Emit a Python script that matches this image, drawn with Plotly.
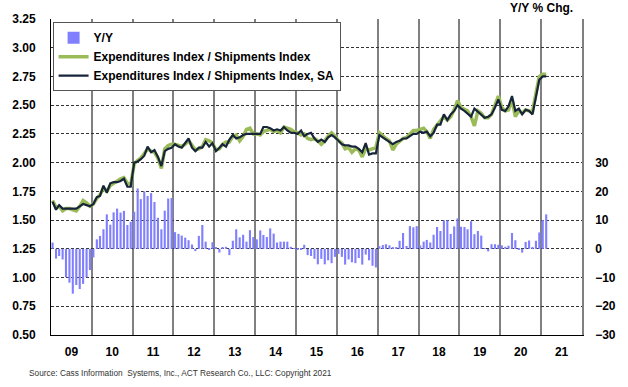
import pandas as pd
import plotly.graph_objects as go

# ---------------- data ----------------
start_month = "2009-01-01"
n_months = 146  # Jan 2009 .. Feb 2021

yoy_pct = [
    2.2, -3.4, -2.5, -3.7, -9.9, -11.8, -15.6, -12.6, -14.0, -12.2, -9.9, -7.4,   # 2009
    -3.0, 3.3, 4.5, 6.8, 12.0, 8.4, 12.7, 14.0, 12.6, 13.2, 8.3, 9.4,             # 2010
    12.9, 21.0, 17.3, 20.0, 18.4, 19.4, 16.3, 10.8, 6.8, 13.3, 17.5, 17.7,        # 2011
    5.8, 5.2, 4.6, 3.9, 3.0, 1.5, -0.8, 4.5, 8.3, 2.5, -0.1, 2.3,                 # 2012
    0.5, -1.3, 0.3, 0.7, -2.2, 2.8, 6.8, 4.0, 4.9, 2.5, 6.5, 4.1,                 # 2013
    3.3, 6.4, 4.8, 4.1, 7.1, 5.3, 2.2, 2.5, 2.5, 2.5, 0.7, 0.2,                   # 2014
    -0.3, -0.1, 1.4, -2.2, -2.5, -3.5, -5.4, -3.5, -5.4, -4.0, -5.0, -2.8,        # 2015
    -1.8, -2.8, -5.5, -3.7, -4.7, -5.0, -3.2, -5.5, -2.0, -4.0, -5.9, -6.5,       # 2016
    0.9, 1.3, 1.6, 1.2, 0.3, 0.5, 2.8, 5.5, 1.0, 7.9, 7.5, 7.9,                   # 2017
    1.2, 2.5, 3.1, 2.2, 4.9, 7.6, 6.2, 9.9, 9.9, 5.2, 7.8, 10.6,                  # 2018
    7.7, 7.6, 6.8, 9.6, 5.1, 6.2, 4.6, 0.1, -0.9, 1.6, 1.6, 1.4,                  # 2019
    1.2, 0.7, 1.1, 5.5, 3.0, -0.2, -1.3, 2.4, 2.9, 0.4, 2.8, 5.7,                 # 2020
    10.0, 12.0,                                                                   # 2021
]

ratio_nsa = [
    1.67, 1.61, 1.62, 1.58, 1.60, 1.60, 1.59, 1.58, 1.62, 1.67, 1.65, 1.62,
    1.64, 1.69, 1.72, 1.78, 1.75, 1.80, 1.82, 1.84, 1.86, 1.87, 1.82, 1.81,
    1.99, 2.02, 2.04, 2.08, 2.12, 2.10, 2.09, 2.04, 1.95, 2.12, 2.15, 2.16,
    2.16, 2.15, 2.14, 2.16, 2.19, 2.15, 2.11, 2.12, 2.14, 2.20, 2.19, 2.17,
    2.11, 2.12, 2.16, 2.18, 2.18, 2.23, 2.24, 2.19, 2.23, 2.29, 2.30, 2.25,
    2.25, 2.24, 2.27, 2.28, 2.29, 2.27, 2.28, 2.26, 2.31, 2.30, 2.29, 2.27,
    2.26, 2.24, 2.25, 2.21, 2.20, 2.21, 2.19, 2.16, 2.19, 2.23, 2.26, 2.23,
    2.19, 2.17, 2.12, 2.13, 2.09, 2.12, 2.11, 2.05, 2.12, 2.11, 2.12, 2.13,
    2.26, 2.23, 2.21, 2.19, 2.11, 2.16, 2.18, 2.21, 2.22, 2.25, 2.28, 2.28,
    2.29, 2.30, 2.27, 2.21, 2.29, 2.33, 2.37, 2.40, 2.37, 2.40, 2.46, 2.54,
    2.48, 2.46, 2.45, 2.40, 2.32, 2.45, 2.43, 2.39, 2.39, 2.42, 2.50, 2.58,
    2.48, 2.45, 2.46, 2.55, 2.40, 2.45, 2.43, 2.46, 2.45, 2.44, 2.60, 2.75,
    2.77, 2.77,
]

ratio_sa = [
    1.66, 1.59, 1.63, 1.60, 1.60, 1.60, 1.60, 1.60, 1.62, 1.64, 1.63, 1.62,
    1.64, 1.70, 1.71, 1.80, 1.74, 1.82, 1.83, 1.83, 1.84, 1.86, 1.79, 1.79,
    2.00, 2.01, 2.03, 2.06, 2.14, 2.09, 2.11, 2.05, 1.97, 2.10, 2.12, 2.13,
    2.16, 2.14, 2.13, 2.17, 2.21, 2.13, 2.10, 2.13, 2.13, 2.18, 2.14, 2.17,
    2.10, 2.13, 2.16, 2.14, 2.20, 2.24, 2.21, 2.22, 2.24, 2.25, 2.25, 2.25,
    2.25, 2.25, 2.31, 2.31, 2.30, 2.28, 2.29, 2.28, 2.31, 2.28, 2.26, 2.26,
    2.25, 2.28, 2.23, 2.25, 2.26, 2.21, 2.18, 2.20, 2.18, 2.22, 2.24, 2.22,
    2.19, 2.16, 2.15, 2.15, 2.14, 2.14, 2.12, 2.09, 2.17, 2.07, 2.08, 2.08,
    2.24, 2.22, 2.20, 2.18, 2.16, 2.18, 2.19, 2.21, 2.21, 2.23, 2.25, 2.25,
    2.27, 2.26, 2.27, 2.23, 2.26, 2.33, 2.33, 2.42, 2.37, 2.42, 2.45, 2.50,
    2.47, 2.45, 2.43, 2.40, 2.47, 2.44, 2.42, 2.39, 2.40, 2.42, 2.48, 2.55,
    2.46, 2.45, 2.49, 2.58, 2.45, 2.47, 2.42, 2.46, 2.45, 2.42, 2.57, 2.72,
    2.75, 2.75,
]

left_ticks = [0.50, 0.75, 1.00, 1.25, 1.50, 1.75, 2.00, 2.25, 2.50, 2.75, 3.00, 3.25]
right_ticks = [-30, -20, -10, 0, 10, 20, 30]

series_names = ["Y/Y", "Expenditures Index / Shipments Index",
                "Expenditures Index / Shipments Index, SA"]
title_text = "Y/Y % Chg."
source_text = "Source: Cass Information  Systems, Inc., ACT Research Co., LLC: Copyright 2021"

# ---------------- figure ----------------
months = pd.date_range(start_month, periods=n_months, freq="MS") + pd.Timedelta(days=14)

FONT = "Liberation Sans, Arial, sans-serif"
bold = dict(family=FONT, size=12, color="black", weight="bold")
DAY_MS = 86400000

fig = go.Figure()
fig.add_trace(go.Bar(
    x=months, y=yoy_pct, name=series_names[0], yaxis="y",
    marker=dict(color="#8080FF", line=dict(width=0)),
    width=19 * DAY_MS,
))
fig.add_trace(go.Scatter(
    x=months, y=ratio_nsa, name=series_names[1], yaxis="y2", mode="lines",
    line=dict(color="#9BBB59", width=3.5),
))
fig.add_trace(go.Scatter(
    x=months, y=ratio_sa, name=series_names[2], yaxis="y2", mode="lines",
    line=dict(color="#17253A", width=2.2),
))

fig.update_layout(
    width=628, height=387,
    margin=dict(l=47, r=40, t=17, b=52),
    paper_bgcolor="white", plot_bgcolor="white",
    font=dict(family=FONT, size=12, color="black"),
    showlegend=True,
    legend=dict(
        x=0.003, y=0.99, xanchor="left", yanchor="top",
        bgcolor="white", bordercolor="#555555", borderwidth=1,
        font=bold, traceorder="normal", itemwidth=30,
        tracegroupgap=0,
    ),
    xaxis=dict(
        type="date", range=["2009-01-01", "2022-01-01"],
        dtick="M12", tick0="2009-01-01", tickformat="%y",
        ticklabelmode="period", ticks="",
        showgrid=True, gridcolor="#808080", gridwidth=1.5,
        showline=True, linecolor="black", linewidth=1,
        tickfont=bold, ticklabelstandoff=6,
    ),
    yaxis=dict(
        side="right", range=[-30, 80], tickvals=right_ticks,
        showgrid=False, zeroline=False, ticks="",
        showline=True, linecolor="#808080", linewidth=1.5,
        tickfont=bold, ticklabelstandoff=9,
    ),
    yaxis2=dict(
        overlaying="y", side="left", range=[0.5, 3.25], tickvals=left_ticks,
        tickformat=".2f", showgrid=True, gridcolor="#333333", gridwidth=1,
        griddash="3px,2px", zeroline=False, ticks="",
        showline=True, linecolor="black", linewidth=1,
        tickfont=bold, ticklabelstandoff=12,
    ),
    bargap=0.4,
    annotations=[
        dict(text=title_text, xref="paper", yref="paper", x=0.987, y=1.035,
             xanchor="right", yanchor="middle", showarrow=False, font=bold),
        dict(text=source_text, xref="paper", yref="paper", x=-0.046, y=-0.12,
             xanchor="left", yanchor="middle", showarrow=False,
             font=dict(family=FONT, size=8.3, color="#333333")),
    ],
)

fig.write_html(
    "out.html",
    config={"displayModeBar": False},
    post_script="document.body.style.margin='0';document.body.style.overflow='hidden';",
)
